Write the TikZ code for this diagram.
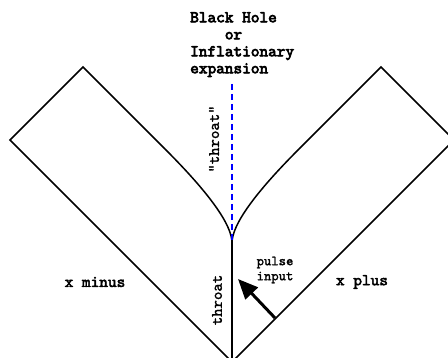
\documentclass[tikz,border=0pt]{standalone}
\usepackage{fontspec}
\newfontfamily\monoheavy{lmmono10-regular.otf}[FakeBold=4]
\newfontfamily\monobold{lmmono10-regular.otf}[FakeBold=3]
\newfontfamily\monomid{lmmono10-regular.otf}[FakeBold=1.5]
\usetikzlibrary{arrows.meta}
\begin{document}
\begin{tikzpicture}[x=1pt, y=-1pt,
  wall/.style={line width=1.5pt, line join=miter},
  titletext/.style={inner sep=0pt, font=\monoheavy\fontsize{16.5}{17}\selectfont},
  bigtext/.style={inner sep=0pt, font=\monobold\fontsize{16.5}{17}\selectfont},
  midtext/.style={inner sep=0pt, font=\monomid\fontsize{16}{17}\selectfont},
  smalltext/.style={inner sep=0pt, align=center, font=\monomid\fontsize{14}{15}\selectfont}]
  \useasboundingbox (0,0) rectangle (448,358);
  \clip (0,0) rectangle (448,358);
  % Corners of the two wedges
  \coordinate (lapex) at (83,67);
  \coordinate (lcorner) at (10,140);
  \coordinate (lbend) at (165,149);
  \coordinate (rapex) at (381,67);
  \coordinate (rcorner) at (454,140);
  \coordinate (rbend) at (299,149);
  \coordinate (bottom) at (232,362);
  \coordinate (cusp) at (232,243);
  % Left wedge (x minus)
  \draw[wall] (lbend) -- (lapex) -- (lcorner) -- (bottom);
  % Right wedge (x plus)
  \draw[wall] (rbend) -- (rapex) -- (rcorner) -- (bottom);
  % Throat
  \draw[wall] (lbend) .. controls (210,194) and (232,225) .. (cusp)
    .. controls (232,225) and (254,194) .. (rbend);
  \draw[wall] (cusp) -- (bottom);
  % Horizon
  \coordinate (htop) at (232,84);
  \coordinate (hbot) at (232,240);
  \draw[blue, line width=1.4pt, dash pattern=on 6pt off 4pt] (htop) -- (hbot);
  % Pulse
  \coordinate (ptail) at (275,318);
  \coordinate (ptip) at (238,279);
  \draw[line width=3pt, -{Triangle[length=20pt, width=17pt]}] (ptail) -- (ptip);
  % Labels
  \node[titletext, align=left, anchor=north west] (bh) at (190,12)
    {Black Hole\\\phantom{Blac}or\\Inflationary\\expansion};
  \node[midtext, rotate=90] (qthroat) at (214,139) {"throat"};
  \node[midtext, rotate=90] (throat) at (217,300) {throat};
  \node[bigtext] (xminus) at (95,282) {x minus};
  \node[bigtext] (xplus) at (362,282) {x plus};
  \node[smalltext] (pulse) at (275,270) {pulse\\input};
\end{tikzpicture}
\end{document}
